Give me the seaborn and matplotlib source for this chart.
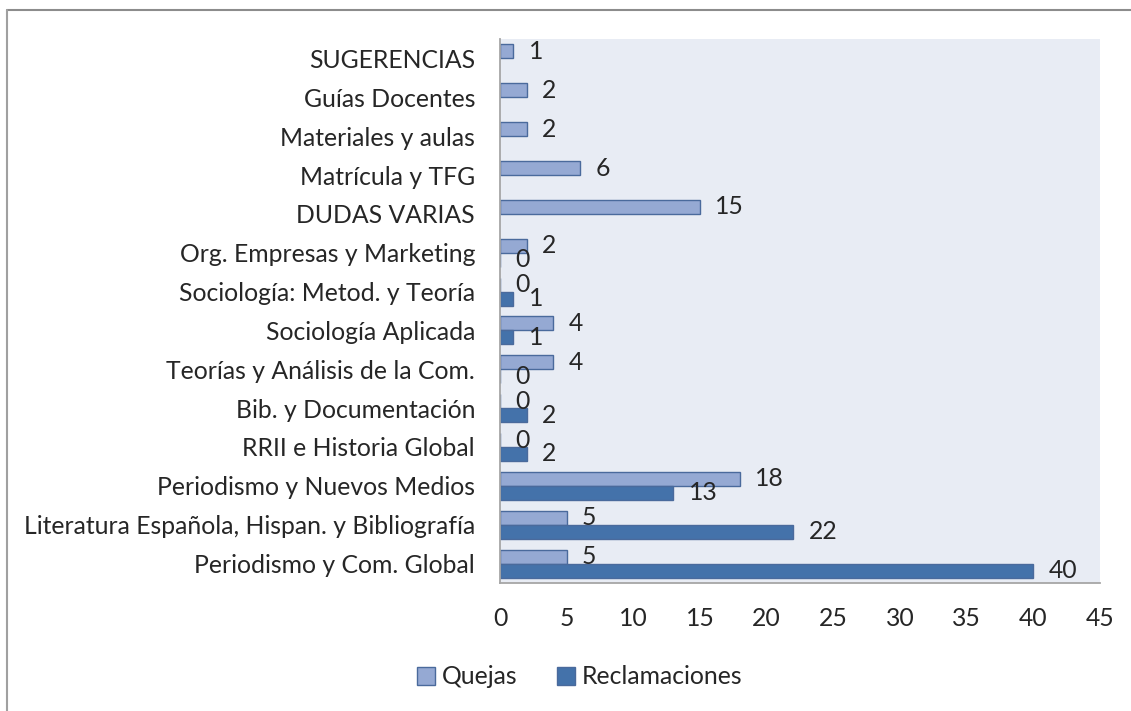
import pandas as pd
import numpy as np
import matplotlib.pyplot as plt
import seaborn as sns
from matplotlib.lines import Line2D

# categories, top to bottom
categorias = ['SUGERENCIAS', 'Guías Docentes', 'Materiales y aulas', 'Matrícula y TFG',
              'DUDAS VARIAS', 'Org. Empresas y Marketing', 'Sociología: Metod. y Teoría',
              'Sociología Aplicada', 'Teorías y Análisis de la Com.', 'Bib. y Documentación',
              'RRII e Historia Global', 'Periodismo y Nuevos Medios',
              'Literatura Española, Hispan. y Bibliografía', 'Periodismo y Com. Global']
quejas = [1, 2, 2, 6, 15, 2, 0, 4, 4, 0, 0, 18, 5, 5]
# no reclamaciones for the first five rows
reclamaciones = [np.nan] * 5 + [0, 1, 1, 0, 2, 2, 13, 22, 40]

c_quejas = '#95A9D3'
c_recl = '#4472AA'

df = pd.DataFrame({
    'Categoria': categorias * 2,
    'Serie': ['Quejas'] * len(categorias) + ['Reclamaciones'] * len(categorias),
    'Valor': quejas + reclamaciones,
})

sns.set_style('white')
plt.rcParams['font.family'] = ['Lato', 'DejaVu Sans']
fs = 17.8

fig = plt.figure(figsize=(11.31, 7.11), dpi=100)
ax = fig.add_axes([500 / 1131, 1 - 583 / 711, 600 / 1131, 544 / 711])
ax.set_facecolor('#E8ECF4')

sns.barplot(data=df, y='Categoria', x='Valor', hue='Serie', order=categorias,
            hue_order=['Quejas', 'Reclamaciones'],
            palette={'Quejas': c_quejas, 'Reclamaciones': c_recl},
            width=0.72, orient='h', ax=ax, linewidth=1.0, edgecolor='#4A6A9C',
            errorbar=None, legend=False, saturation=1)

for cont in ax.containers:
    ax.bar_label(cont, fmt='%g', padding=11, fontsize=fs)

ax.set_xlim(0, 45)
ax.set_ylim(13.5, -0.5)
ax.set_xticks(range(0, 50, 5))
ax.set_xlabel('')
ax.set_ylabel('')
ax.tick_params(axis='both', length=0, labelsize=fs)
ax.tick_params(axis='x', pad=17)
ax.tick_params(axis='y', pad=18)
for s in ['top', 'right']:
    ax.spines[s].set_visible(False)
for s in ['left', 'bottom']:
    ax.spines[s].set_color('#A6A6A6')
    ax.spines[s].set_linewidth(1.3)

handles = [plt.Rectangle((0, 0), 1, 1, facecolor=c_quejas, edgecolor='#4A6A9C'),
           plt.Rectangle((0, 0), 1, 1, facecolor=c_recl, edgecolor='#4A6A9C')]
fig.legend(handles, ['Quejas', 'Reclamaciones'], loc='center',
           bbox_to_anchor=(580 / 1131, 1 - 677 / 711), ncol=2, frameon=False,
           fontsize=fs, handlelength=0.7, handleheight=0.7, handletextpad=0.3,
           columnspacing=1.6)

# outer chart border (cropped on the right and bottom)
fig.add_artist(Line2D([7 / 1131, 1], [1 - 10 / 711, 1 - 10 / 711], color='#8C8C8C', lw=1.5,
                      transform=fig.transFigure))
fig.add_artist(Line2D([7 / 1131, 7 / 1131], [0, 1 - 10 / 711], color='#A0A0A0', lw=1.5,
                      transform=fig.transFigure))

fig.savefig('out.png', dpi=100)
